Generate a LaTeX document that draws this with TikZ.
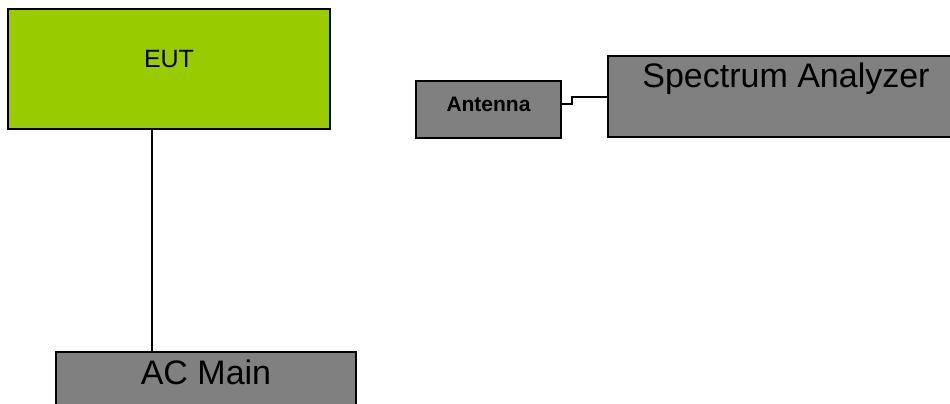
\documentclass[tikz,border=0pt]{standalone}
\usepackage{fontspec}
\setmainfont{Liberation Sans}
\definecolor{eutgreen}{HTML}{99CC00}
\definecolor{boxgray}{HTML}{808080}
\tikzset{
  blockbox/.style={draw=black, line width=1.4pt, rectangle, inner sep=0pt, outer sep=0pt},
  caption/.style={anchor=base, inner sep=0pt, text=black},
  wire/.style={draw=black, line width=1.4pt}
}
\begin{document}
\begin{tikzpicture}[x=1pt, y=-1pt]
  \useasboundingbox (0,0) rectangle (950,404);
  \clip (0,0) rectangle (950,404);
  \fill[white] (0,0) rectangle (950,404);

  % device under test and its mains supply
  \node[blockbox, fill=eutgreen, minimum width=322pt, minimum height=120pt] (eut) at (169,69) {};
  \node[caption, font=\fontsize{25}{29}\selectfont] (eutlabel) at (169,67.5) {EUT};

  \node[blockbox, fill=boxgray, minimum width=300pt, minimum height=78pt] (acmain) at (206,391) {};
  \node[caption, font=\fontsize{34}{40}\selectfont] (aclabel) at (206,384) {AC Main};

  % receiving side
  \node[blockbox, fill=boxgray, minimum width=145pt, minimum height=57pt] (ant) at (488.5,109.5) {};
  \node[caption, font=\fontsize{21}{25}\selectfont\bfseries] (antlabel) at (488.5,111.5) {Antenna};

  \node[blockbox, fill=boxgray, minimum width=382pt, minimum height=81pt] (sa) at (799,96.5) {};
  \node[caption, font=\fontsize{34}{40}\selectfont] (salabel) at (786,87) {Spectrum Analyzer};

  % cables
  \draw[wire] ([xshift=144pt]eut.south west) -- ([xshift=96pt]acmain.north west);
  \draw[wire] ([yshift=-23pt]ant.north east) -- ++(11,0) |- ([yshift=-41pt]sa.north west);
\end{tikzpicture}
\end{document}
